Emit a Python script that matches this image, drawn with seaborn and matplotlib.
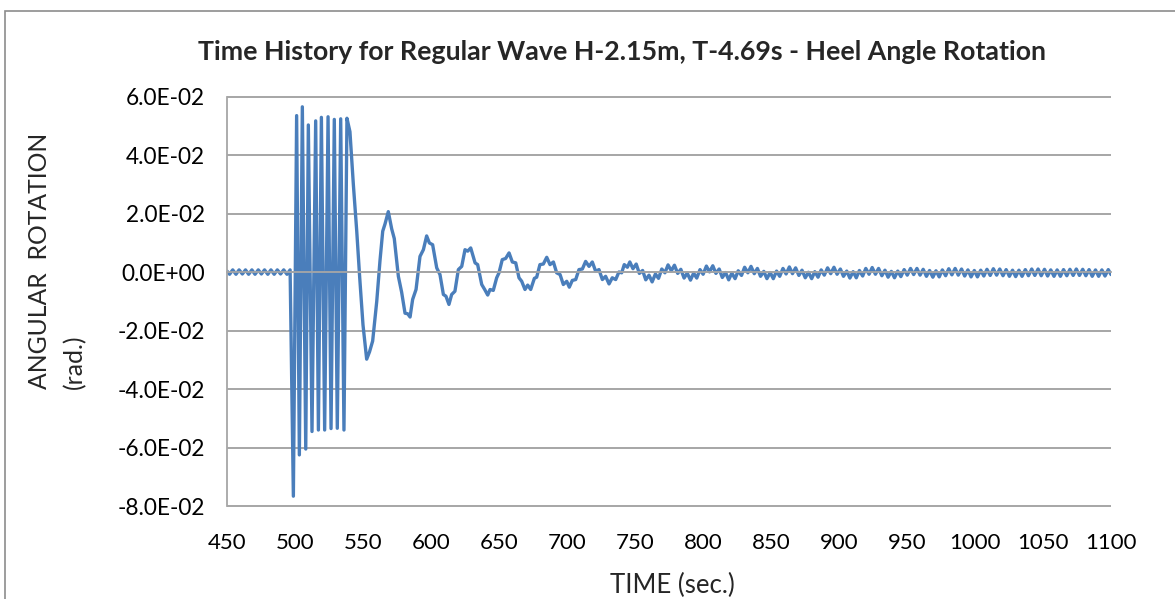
import matplotlib
matplotlib.use("Agg")
import matplotlib.pyplot as plt
from matplotlib.patches import Rectangle
import seaborn as sns
import pandas as pd

# values (time in s, heel angle in rad)
# quiet ripple before the wave group arrives
pre_t = [450.0, 451.9, 454.2, 456.6, 458.9, 461.3, 463.6, 465.9, 468.3, 470.6, 473.0,
         475.3, 477.6, 480.0, 482.3, 484.7, 487.0, 489.4, 491.7, 494.1, 496.4]
pre_v = [0.0004, -0.0007, 0.0008, -0.0007, 0.0008, -0.0006, 0.0008, -0.0007, 0.0008, -0.0007, 0.0008,
         -0.0006, 0.0008, -0.0007, 0.0008, -0.0007, 0.0008, -0.0006, 0.0008, -0.0007, 0.0008]

# large forced oscillation 498-538 s
burst_t = [498.8, 501.2, 503.2, 505.4, 507.9, 509.8, 512.5, 515.2, 517.2,
           519.4, 521.8, 524.3, 526.5, 528.9, 531.1, 533.6, 536.0, 538.2]
burst_v = [-0.0765, 0.0535, -0.0624, 0.0565, -0.0604, 0.0503, -0.0544, 0.0517, -0.0539,
           0.0529, -0.0539, 0.0531, -0.0534, 0.0522, -0.0533, 0.0524, -0.0539, 0.0526]

# free decay of the roll motion
decay_t = [540.4, 542.9, 545.4, 547.6, 550.0, 552.7, 554.8, 557.1, 560.1, 562.5,
           564.5, 566.2, 568.6, 571.1, 573.0, 576.0, 578.4, 580.9, 582.9, 584.6,
           586.5, 589.0, 591.9, 594.4, 596.8, 598.8, 601.2, 604.2, 606.6, 609.1,
           611.0, 613.2, 615.2, 617.6, 620.1, 622.6, 625.0, 627.0, 629.2, 632.4,
           634.3, 637.3, 639.6, 641.7, 643.4, 645.8, 648.3, 650.0, 652.4, 654.9,
           657.4, 659.8, 662.3, 664.7, 666.7, 669.1, 671.1, 673.3, 676.0, 677.7,
           680.1, 682.6, 685.1, 687.5, 690.0, 692.4, 694.9, 697.3, 699.8, 701.7,
           703.9, 706.4, 708.8, 711.3, 713.7, 716.2, 718.6, 721.1, 723.5, 726.0,
           728.4, 730.9, 733.3, 735.8, 738.2, 740.2, 742.1, 744.4]
decay_v = [0.0480, 0.0300, 0.0140, -0.0020, -0.0180, -0.0297, -0.0272, -0.0235, -0.0100, 0.0040,
           0.0140, 0.0165, 0.0207, 0.0148, 0.0115, -0.0014, -0.0068, -0.0140, -0.0142, -0.0153,
           -0.0093, -0.0059, 0.0054, 0.0077, 0.0124, 0.0100, 0.0094, 0.0015, -0.0008, -0.0076,
           -0.0082, -0.0110, -0.0076, -0.0065, 0.0009, 0.0020, 0.0077, 0.0072, 0.0083, 0.0032,
           0.0026, -0.0042, -0.0060, -0.0078, -0.0059, -0.0062, -0.0019, -0.0002, 0.0043, 0.0047,
           0.0066, 0.0035, 0.0032, -0.0019, -0.0031, -0.0059, -0.0044, -0.0059, -0.0021, -0.0017,
           0.0026, 0.0028, 0.0051, 0.0026, 0.0035, -0.0002, -0.0008, -0.0042, -0.0031, -0.0051,
           -0.0028, -0.0025, 0.0009, 0.0011, 0.0037, 0.0020, 0.0035, 0.0003, 0.0009, -0.0025,
           -0.0014, -0.0040, -0.0019, -0.0025, 0.0001, -0.0002, 0.0026, 0.0017]

# long tail: wave ripple on a small residual roll
late_t = [746.2, 748.5, 750.9, 753.2, 755.6, 757.9, 760.3, 762.6, 765.0, 767.3,
          769.7, 772.0, 774.3, 776.7, 779.0, 781.4, 783.7, 786.1, 788.4, 790.8,
          793.1, 795.4, 797.8, 800.1, 802.5, 804.8, 807.2, 809.5, 811.9, 814.2,
          816.6, 818.9, 821.2, 823.6, 825.9, 828.3, 830.6, 833.0, 835.3, 837.7,
          840.0, 842.3, 844.7, 847.0, 849.4, 851.7, 854.1, 856.4, 858.8, 861.1,
          863.5, 865.8, 868.1, 870.5, 872.8, 875.2, 877.5, 879.9, 882.2, 884.6,
          886.9, 889.2, 891.6, 893.9, 896.3, 898.6, 901.0, 903.3, 905.7, 908.0,
          910.4, 912.7, 915.0, 917.4, 919.7, 922.1, 924.4, 926.8, 929.1, 931.5,
          933.8, 936.1, 938.5, 940.8, 943.2, 945.5, 947.9, 950.2, 952.6, 954.9,
          957.3, 959.6, 961.9, 964.3, 966.6, 969.0, 971.3, 973.7, 976.0, 978.4,
          980.7, 983.0, 985.4, 987.7, 990.1, 992.4, 994.8, 997.1, 999.5, 1001.8,
          1004.2, 1006.5, 1008.8, 1011.2, 1013.5, 1015.9, 1018.2, 1020.6, 1022.9, 1025.3,
          1027.6, 1029.9, 1032.3, 1034.6, 1037.0, 1039.3, 1041.7, 1044.0, 1046.4, 1048.7,
          1051.1, 1053.4, 1055.7, 1058.1, 1060.4, 1062.8, 1065.1, 1067.5, 1069.8, 1072.2,
          1074.5, 1076.8, 1079.2, 1081.5, 1083.9, 1086.2, 1088.6, 1090.9, 1093.3, 1095.6,
          1098.0, 1100.0]
late_v = [0.0035, 0.0012, 0.0028, -0.0004, 0.0006, -0.0026, -0.0010, -0.0033, -0.0006, -0.0021,
          0.0011, -0.0002, 0.0025, 0.0005, 0.0024, -0.0004, 0.0010, -0.0020, -0.0003, -0.0027,
          -0.0003, -0.0020, 0.0009, -0.0007, 0.0021, 0.0001, 0.0022, -0.0004, 0.0011, -0.0018,
          -0.0001, -0.0026, -0.0003, -0.0022, 0.0005, -0.0011, 0.0017, -0.0002, 0.0020, -0.0005,
          0.0013, -0.0014, 0.0003, -0.0022, -0.0001, -0.0022, 0.0004, -0.0014, 0.0013, -0.0006,
          0.0018, -0.0005, 0.0015, -0.0011, 0.0007, -0.0019, 0.0000, -0.0022, 0.0002, -0.0017,
          0.0008, -0.0010, 0.0015, -0.0005, 0.0017, -0.0007, 0.0011, -0.0014, 0.0004, -0.0020,
          0.0002, -0.0019, 0.0006, -0.0013, 0.0013, -0.0007, 0.0016, -0.0007, 0.0013, -0.0012,
          0.0007, -0.0017, 0.0003, -0.0019, 0.0004, -0.0015, 0.0009, -0.0010, 0.0013, -0.0008,
          0.0013, -0.0010, 0.0010, -0.0014, 0.0006, -0.0017, 0.0005, -0.0016, 0.0008, -0.0012,
          0.0012, -0.0009, 0.0013, -0.0010, 0.0011, -0.0013, 0.0008, -0.0016, 0.0006, -0.0016,
          0.0007, -0.0013, 0.0010, -0.0011, 0.0012, -0.0010, 0.0011, -0.0012, 0.0009, -0.0014,
          0.0007, -0.0015, 0.0007, -0.0014, 0.0009, -0.0012, 0.0011, -0.0011, 0.0011, -0.0012,
          0.0010, -0.0013, 0.0008, -0.0014, 0.0008, -0.0014, 0.0009, -0.0012, 0.0010, -0.0011,
          0.0011, -0.0011, 0.0010, -0.0012, 0.0009, -0.0014, 0.0008, -0.0014, 0.0008, -0.0013,
          0.0009, -0.0008]

x_ticks = [450, 500, 550, 600, 650, 700, 750, 800, 850, 900, 950, 1000, 1050, 1100]
y_ticks = [-0.08, -0.06, -0.04, -0.02, 0.0, 0.02, 0.04, 0.06]
y_tick_labels = ["-8.0E-02", "-6.0E-02", "-4.0E-02", "-2.0E-02",
                 "0.0E+00", "2.0E-02", "4.0E-02", "6.0E-02"]

title = "Time History for Regular Wave H-2.15m, T-4.69s - Heel Angle Rotation"

segments = [(pre_t, pre_v), (burst_t, burst_v), (decay_t, decay_v), (late_t, late_v)]
df = pd.concat([pd.DataFrame({"time": t, "rotation": v}) for t, v in segments],
               ignore_index=True)

sns.set_theme(style="white")
plt.rcParams["font.family"] = ["Lato", "DejaVu Sans"]

grey = "#A6A6A6"
fig = plt.figure(figsize=(11.75, 5.99), dpi=100)
ax = fig.add_axes([227 / 1175, 1 - 507 / 599, 884 / 1175, 411 / 599])
ax.set_axisbelow(True)

sns.lineplot(data=df, x="time", y="rotation", ax=ax, color="#4A7EBB",
             linewidth=2.4, estimator=None, sort=False)

ax.set_xlim(450, 1100)
ax.set_ylim(-0.0802, 0.0602)
ax.set_yticks(y_ticks)
ax.set_yticklabels(y_tick_labels)
ax.set_xticks(x_ticks)
ax.yaxis.grid(True, color=grey, linewidth=1.4)
ax.xaxis.grid(False)
ax.set_xlabel("")
ax.set_ylabel("")

for s in ["top", "right"]:
    ax.spines[s].set_visible(False)
ax.spines["left"].set_color(grey)
ax.spines["left"].set_linewidth(1.3)
ax.spines["left"].set_bounds(-0.08, 0.06)
ax.spines["bottom"].set_position(("data", 0))
ax.spines["bottom"].set_color(grey)
ax.spines["bottom"].set_linewidth(1.3)

ax.tick_params(axis="x", direction="out", length=5.5, width=1.3, color=grey,
               labelbottom=False)
ax.tick_params(axis="y", direction="out", length=5, width=1.3, color=grey,
               labelsize=16.3, pad=11, labelcolor="black")

# Excel-style: labels sit below the plot, axis line crosses at zero
sec = ax.secondary_xaxis("bottom")
sec.set_xticks(x_ticks)
sec.set_xticklabels([str(t) for t in x_ticks])
sec.tick_params(length=0, labelsize=16, pad=18.5, labelcolor="black")
sec.spines["bottom"].set_visible(False)

fig.text(622 / 1175, 1 - 52 / 599, title, ha="center", va="center",
         fontsize=19.3, fontweight="bold")
fig.text(57 / 1175, 1 - 261 / 599, "ANGULAR  ROTATION\n(rad.)", rotation=90,
         ha="center", va="center", multialignment="left", fontsize=17.8,
         linespacing=1.6)
fig.text(672 / 1175, 1 - 593 / 599, "TIME (sec.)", ha="center", va="baseline",
         fontsize=18.5)

fig.patches.append(Rectangle((5 / 1175, -0.1), 1.2, 1.1 - 11 / 599,
                             transform=fig.transFigure, fill=False,
                             edgecolor="#8C8C8C", linewidth=1.2))

fig.savefig("out.png", dpi=100)
